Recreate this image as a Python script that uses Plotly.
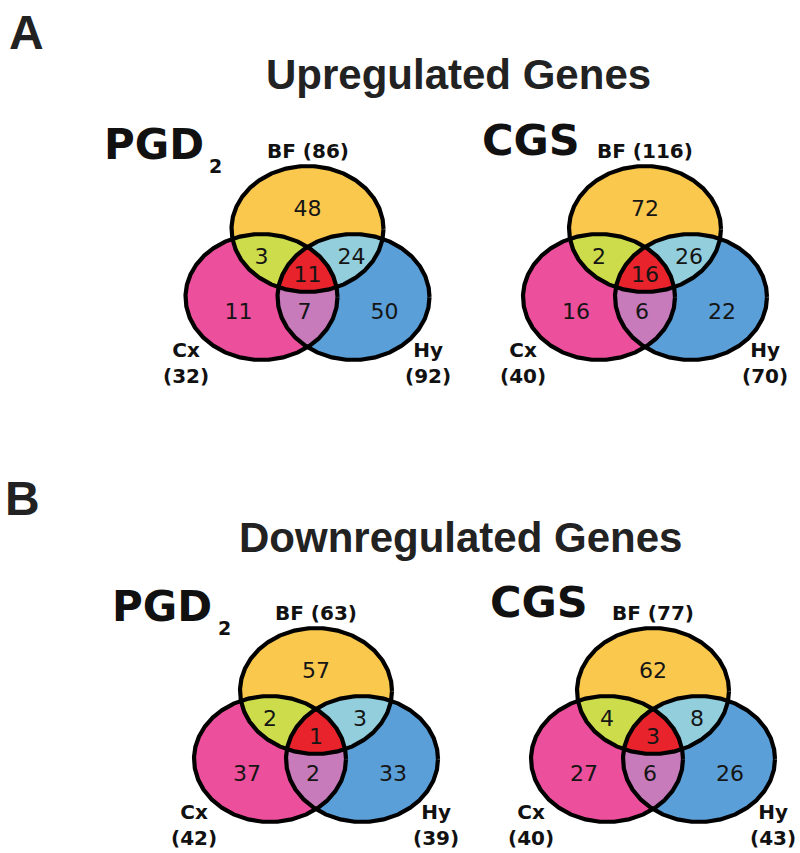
import numpy as np
import plotly.graph_objects as go

# ---------------- data ----------------
panels = ["PGD2 up", "CGS up", "PGD2 down", "CGS down"]
treatments = ["PGD", "CGS", "PGD", "CGS"]
# region counts: BF only, BF&Cx, BF&Hy, all three, Cx&Hy, Cx only, Hy only
bf_only = [48, 72, 57, 62]
bf_cx = [3, 2, 2, 4]
bf_hy = [24, 26, 3, 8]
all3 = [11, 16, 1, 3]
cx_hy = [7, 6, 2, 6]
cx_only = [11, 16, 37, 27]
hy_only = [50, 22, 33, 26]
bf_total = [86, 116, 63, 77]
cx_total = [32, 40, 42, 40]
hy_total = [92, 70, 39, 43]
section_titles = ["Upregulated Genes", "Downregulated Genes"]
section_letters = ["A", "B"]

# ---------------- layout geometry ----------------
W, H = 800, 853
centers = [(307.5, 229), (645, 229), (316, 691), (653, 691)]
DX, DY = 46, 68
RX, RY = 76, 63

C_BF = "#FBC84E"
C_CX = "#EC4F9B"
C_HY = "#5A9FD8"
C_BFCX = "#CCDC4A"
C_BFHY = "#93CEDC"
C_CXHY = "#C77BBA"
C_ALL = "#E8232B"

fig = go.Figure()
t = np.linspace(0, 2 * np.pi, 721)


def ell(cx, cy):
    return cx + RX * np.cos(t), cy + RY * np.sin(t)


def inside(x, y, c):
    return ((x - c[0]) / RX) ** 2 + ((y - c[1]) / RY) ** 2 <= 1.0 + 1e-9


def intersect(cs):
    xs, ys = [], []
    for c in cs:
        ex, ey = ell(*c)
        m = np.ones_like(ex, dtype=bool)
        for o in cs:
            if o is not c:
                m &= inside(ex, ey, o)
        xs.append(ex[m]); ys.append(ey[m])
    x = np.concatenate(xs); y = np.concatenate(ys)
    mx, my = x.mean(), y.mean()
    order = np.argsort(np.arctan2(y - my, x - mx))
    x = x[order]; y = y[order]
    return np.append(x, x[0]), np.append(y, y[0])


def poly(x, y, color):
    fig.add_trace(go.Scatter(x=x, y=y, mode="lines", fill="toself",
                             fillcolor=color, line=dict(width=0, color=color),
                             hoverinfo="skip", showlegend=False))


num_font = dict(family="DejaVu Sans", size=22, color="#151515")
lab_font = dict(family="DejaVu Sans", size=20, color="#111111")

for i, (bx, by) in enumerate(centers):
    cBF = (bx, by)
    cCX = (bx - DX, by + DY)
    cHY = (bx + DX, by + DY)
    for c, col in [(cBF, C_BF), (cCX, C_CX), (cHY, C_HY)]:
        ex, ey = ell(*c)
        poly(ex, ey, col)
    for pair, col in [((cBF, cCX), C_BFCX), ((cBF, cHY), C_BFHY), ((cCX, cHY), C_CXHY)]:
        x, y = intersect(list(pair))
        poly(x, y, col)
    x, y = intersect([cBF, cCX, cHY])
    poly(x, y, C_ALL)
    for c in [cBF, cCX, cHY]:
        ex, ey = ell(*c)
        fig.add_trace(go.Scatter(x=ex, y=ey, mode="lines",
                                 line=dict(width=4.2, color="#000000"),
                                 hoverinfo="skip", showlegend=False))
    # region counts
    offs = [(0, -19), (-46, 29), (44, 29), (0, 47), (-3, 84), (-69, 84), (77, 84)]
    vals = [bf_only[i], bf_cx[i], bf_hy[i], all3[i], cx_hy[i], cx_only[i], hy_only[i]]
    fig.add_trace(go.Scatter(
        x=[bx + o[0] for o in offs], y=[by + o[1] for o in offs],
        mode="text", text=[str(v) for v in vals], textfont=num_font,
        hoverinfo="skip", showlegend=False))
    # set labels
    fig.add_annotation(x=bx + 0, y=by - 78, text=f"<b>BF ({bf_total[i]})</b>",
                       showarrow=False, font=lab_font, xanchor="center", yanchor="middle")
    fig.add_annotation(x=bx - 122, y=by + 134, text=f"<b>Cx<br>({cx_total[i]})</b>",
                       showarrow=False, font=lab_font, xanchor="center", yanchor="middle")
    fig.add_annotation(x=bx + 120, y=by + 134, text=f"<b>Hy<br>({hy_total[i]})</b>",
                       showarrow=False, font=lab_font, xanchor="center", yanchor="middle")

# treatment titles
for i, (bx, by) in enumerate(centers):
    if treatments[i] == "PGD":
        fig.add_annotation(x=bx - 154, y=by - 85, text="<b>PGD</b>", showarrow=False,
                           font=dict(family="DejaVu Sans", size=42, color="#111111"),
                           xanchor="center", yanchor="middle")
        fig.add_annotation(x=bx - 92, y=by - 63, text="<b>2</b>", showarrow=False,
                           font=dict(family="DejaVu Sans", size=19, color="#111111"),
                           xanchor="center", yanchor="middle")
    else:
        fig.add_annotation(x=bx - 114, y=by - 89, text="<b>CGS</b>", showarrow=False,
                           font=dict(family="DejaVu Sans", size=43, color="#111111"),
                           xanchor="center", yanchor="middle")

for j, (title, letter) in enumerate(zip(section_titles, section_letters)):
    ty = [74, 537][j]
    tx = [458, 460][j]
    fig.add_annotation(x=tx, y=ty, text=f"<b>{title}</b>", showarrow=False,
                       font=dict(family="Liberation Sans", size=42, color="#222222"),
                       xanchor="center", yanchor="middle")
    fig.add_annotation(x=[26, 22][j], y=[32, 498][j], text=f"<b>{letter}</b>", showarrow=False,
                       font=dict(family="Liberation Sans", size=48, color="#222222"),
                       xanchor="center", yanchor="middle")

fig.update_xaxes(range=[0, W], visible=False, fixedrange=True)
fig.update_yaxes(range=[H, 0], visible=False, fixedrange=True)
fig.update_layout(width=W, height=H, margin=dict(l=0, r=0, t=0, b=0),
                  plot_bgcolor="white", paper_bgcolor="white", showlegend=False)
fig.write_html("out.html", config={"displayModeBar": False},
               post_script="document.body.style.margin='0';document.body.style.overflow='hidden';")
